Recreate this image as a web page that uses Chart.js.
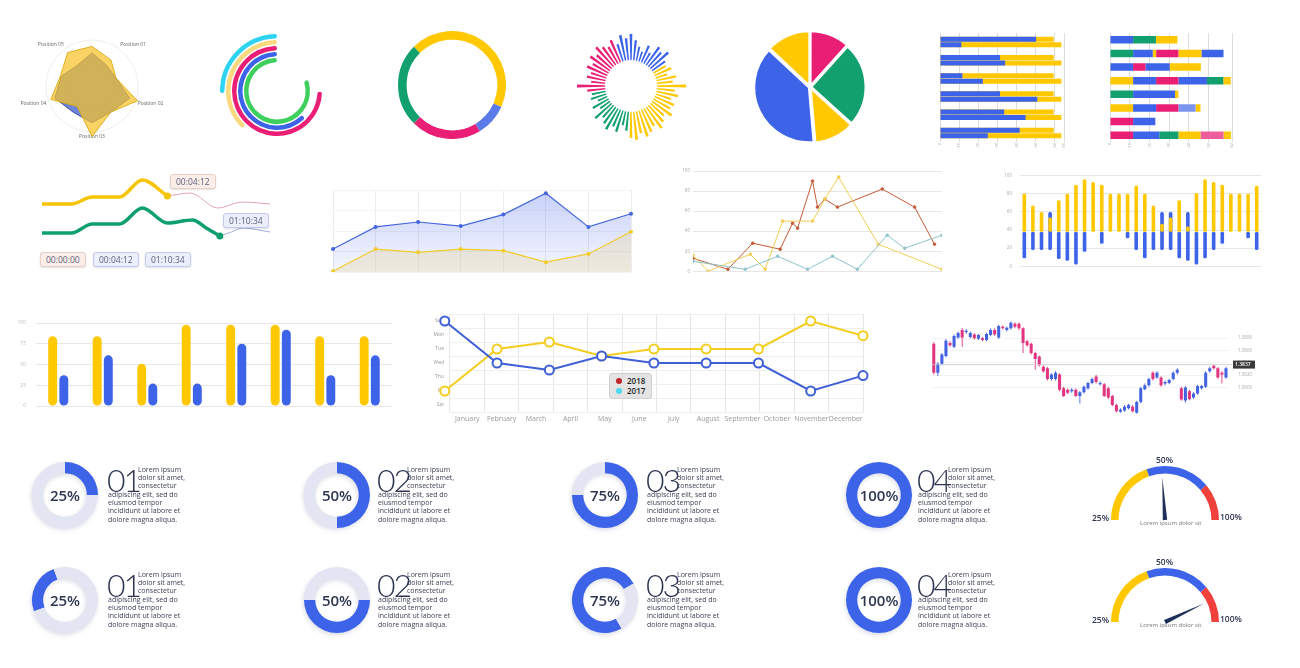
<!DOCTYPE html>
<html>
<head>
<meta charset="utf-8">
<script src="https://cdn.jsdelivr.net/npm/chart.js@4.4.0/dist/chart.umd.min.js"></script>
<style>
  body { margin: 0; background: #fff; }
  #board { position: relative; width: 1300px; height: 668px; overflow: hidden; font-family: 'Open Sans', sans-serif; }
  #board canvas { position: absolute; }
  #board canvas.prog { filter: drop-shadow(-1px 2px 2px rgba(60,70,120,0.18)); }
  .tag { position: absolute; font-size: 8.5px; color: #5b6280; border-radius: 3px; padding: 1px 5px; line-height: 11px; box-shadow: 0 1px 2px rgba(0,0,0,0.12); }
  .tag.warm { background: #fbeee9; border: 1px solid #e6cfc6; }
  .tag.cool { background: #eceefb; border: 1px solid #c3c9ec; }
  .num { position: absolute; font-family: Lato, 'Open Sans', sans-serif; font-weight: 300; font-size: 32px; line-height: 32px; color: #2d3552; letter-spacing: -2px; }
  .txt { position: absolute; font-size: 7px; line-height: 8.2px; color: #3a3f55; white-space: nowrap; }
  .pct { position: absolute; width: 60px; text-align: center; font-size: 15px; font-weight: 600; color: #2e3650; transform: translate(-50%, -50%); }
  .glab { position: absolute; font-size: 8.5px; font-weight: 600; color: #2e3650; }
  .gsub { position: absolute; font-size: 6px; color: #777; white-space: nowrap; }
  .legend { position: absolute; background: #e4e4e4; border: 1px solid #cfcfcf; border-radius: 3px; font-size: 8px; font-weight: 600; color: #222; padding: 2px 6px; line-height: 10px; }
  .legend i { display: inline-block; width: 6px; height: 6px; border-radius: 50%; margin-right: 5px; }
</style>
</head>
<body>
<div id="board"></div>
<script>
// kleuren
const BLUE = '#3d63e8', YEL = '#ffc800', PINK = '#e91e74', GREEN = '#12a06e', RED = '#f0403c';

// radar
const radarLabels = ['Position 05', '', 'Position 01', '', 'Position 02', '', 'Position 03', '', 'Position 04', ''];
const radarYellow = [90, 86, 70, 55, 104, 70, 110, 55, 94, 72];
const radarBlue = [55, 72, 55, 55, 86, 70, 80, 70, 85, 70];

// ringen (graden: leeg, gevuld)
const ringGap = [268, 223, 91, 134, 70];
const ringArc = [92, 137, 269, 226, 290];
const ringColors = ['#2fd3f2', '#fbd97f', PINK, BLUE, '#3ecf5c'];

// donut
const donutParts = [159, 35, 76, 90];
const donutColors = [YEL, '#5b7be9', PINK, GREEN];

// zonnestraal
const burstLengths = [52, 46, 40, 36, 44, 38, 48, 45, 50, 42, 40, 44, 38, 46, 42, 55, 44, 48, 42, 47,
  45, 50, 44, 48, 52, 46, 50, 53, 48, 54, 52, 45, 40, 48, 44, 50, 46, 42, 48, 38,
  44, 36, 42, 40, 44, 54, 40, 45, 42, 48, 44, 50, 46, 52, 48, 45, 50, 44, 52, 48];
const burstInner = 26;

// taart
const pieValues = [42, 90, 43, 138, 47];
const pieColors = [PINK, GREEN, YEL, BLUE, YEL];

// horizontale balken links
const hbarGroups = ['1', '2', '3', '4', '5', '6'];
const hbarTopTotal = [59.5, 59.5, 59.5, 59.5, 59.5, 59.5];
const hbarTopBlue = [50.3, 31.4, 11.7, 31.4, 33.6, 41.7];
const hbarBotTotal = [63.5, 63.5, 63.5, 63.5, 63.5, 63.5];
const hbarBotBlue = [11.2, 34.1, 22.4, 50.9, 44.8, 25.0];

// gestapelde balken rechts
const stackRows = ['1', '2', '3', '4', '5', '6', '7', '8'];
const stackSegs = [
  [11.7, 11.7, 11.7, 11.7, 11.7, 11.7, 11.7, 11.7],
  [11.6, 10, 6.3, 11.7, 21.3, 11.7, 11.3, 13.3],
  [10.9, 1.7, 12.3, 11.3, 1.7, 11.3, 0, 9.7],
  [0, 11.3, 15.8, 14.5, 0, 8.7, 0, 11.2],
  [0, 11.7, 0, 8.3, 0, 2.5, 0, 11.7],
  [0, 11.2, 0, 3.8, 0, 0, 0, 3.8]
];
const B = BLUE, G = GREEN, Y = YEL, P = PINK, LB = '#7b94ee', LP = '#ef5d9d', N = 'rgba(0,0,0,0)';
const stackColors = [
  [B, G, B, Y, G, Y, P, P],
  [G, B, P, B, B, B, B, B],
  [Y, Y, B, P, Y, P, N, G],
  [N, P, Y, B, N, LB, N, Y],
  [N, Y, N, G, N, Y, N, LP],
  [N, B, N, Y, N, N, N, Y]
];

// vloeiende lijnen
const yelX = [0, 13, 22, 34, 44, 55], yelY = [36, 36, 43, 43, 60, 44];
const pinkX = [55, 65, 77, 88, 100], pinkY = [44, 47, 32, 38, 36];
const grnX = [0, 13, 22, 34, 44, 55, 66, 72, 78], grnY = [7, 7, 16, 16, 32, 17, 20, 12, 4];
const periX = [78, 83, 88, 100], periY = [4, 8, 12, 8];

// vlakgrafiek
const areaLabels = ['', '', '', '', '', '', '', ''];
const areaBlue = [28, 55, 61, 56, 70, 96, 55, 71];
const areaYellow = [1, 28, 24, 28, 26, 12, 22, 49];

// meerdere lijnen
const redX = [0, 14, 24, 35, 40, 42, 48, 50, 53, 58, 76, 89, 97];
const redY = [13, 2, 28, 22, 48, 43, 90, 64, 72, 64, 82, 64, 27];
const goldX = [0, 6, 23, 29, 36, 48, 53, 58.5, 74.4, 100];
const goldY = [16, 0, 17, 2, 50, 50, 72, 94, 27, 2];
const tealX = [0, 21, 34, 46, 56, 66, 78, 85, 100];
const tealY = [10, 2, 15, 2, 15, 2, 36, 23, 36];

// plus/min balken
const pnBase = 38;
const pnYellow = [80, 67, 60, 54, 73, 80, 90, 96, 93, 90, 80, 80, 80, 89, 80, 67, 47, 54, 73, 44, 81, 96, 93, 90, 80, 80, 80, 89];
const pnBlueLow = [9, 18, 18, 18, 8, 6, 2, 16, 38, 25, 38, 38, 31, 18, 9, 18, 18, 18, 9, 6, 2, 9, 18, 25, 38, 38, 31, 18];
const pnBlueHigh = [38, 38, 38, 60, 38, 38, 38, 38, 38, 38, 38, 38, 38, 38, 38, 38, 60, 60, 38, 60, 38, 38, 38, 38, 38, 38, 38, 38];

// gegroepeerde balken
const grpLabels = ['', '', '', '', '', '', '', ''];
const grpYellow = [84, 84, 51, 98, 98, 98, 84, 84];
const grpBlue = [37, 61, 27, 27, 75, 92, 37, 61];

// maanden
const months = ['January', 'February', 'March', 'April', 'May', 'June', 'July', 'August', 'September', 'October', 'November', 'December'];
const days = ['Sun', 'Mon', 'Tue', 'Wed', 'Thu', 'Fri', 'Sat'];
const lineBlue = [0, 3, 3.5, 2.5, 3, 3, 3, 5, 3.9];
const lineYellow = [5, 2, 1.5, 2.5, 2, 2, 2, 0, 1.05];

// candles
const candleOpen = [300, 205, 235, 260, 302, 290, 320, 345, 338, 322, 330, 316, 318, 312, 328, 345, 320, 355, 345, 350, 365, 365, 350, 308, 300, 270, 258, 225, 220, 185, 185, 200, 155, 150, 145, 150, 130, 142, 155, 172, 193, 168, 168, 155, 130, 100, 78, 82, 90, 95, 75, 110, 152, 165, 205, 190, 190, 170, 172, 185, 205, 155, 115, 145, 125, 138, 155, 160, 210, 228, 220, 205, 190];
const candleClose = [205, 235, 265, 310, 295, 325, 335, 320, 342, 335, 318, 328, 312, 332, 345, 330, 358, 350, 352, 368, 355, 350, 302, 295, 270, 250, 230, 210, 185, 200, 205, 150, 130, 140, 150, 130, 142, 160, 172, 185, 175, 172, 130, 125, 100, 80, 85, 95, 100, 80, 110, 155, 165, 185, 185, 205, 165, 175, 182, 205, 215, 118, 157, 120, 138, 162, 162, 205, 220, 220, 190, 200, 220];
const candleHigh = [305, 240, 270, 315, 308, 330, 340, 350, 348, 340, 334, 332, 322, 336, 350, 350, 362, 360, 356, 372, 370, 370, 354, 312, 304, 274, 262, 230, 224, 204, 210, 204, 160, 154, 156, 154, 146, 164, 176, 190, 198, 178, 172, 160, 134, 104, 90, 100, 104, 100, 114, 160, 170, 190, 210, 210, 194, 180, 186, 210, 220, 160, 162, 150, 142, 166, 166, 210, 225, 232, 224, 210, 225];
const candleLow = [200, 195, 230, 255, 290, 285, 316, 290, 332, 318, 314, 312, 308, 308, 324, 326, 316, 346, 340, 346, 350, 345, 270, 290, 265, 215, 226, 205, 180, 180, 180, 145, 126, 136, 140, 126, 105, 138, 150, 168, 170, 164, 126, 120, 96, 76, 75, 78, 86, 76, 72, 106, 148, 160, 180, 186, 160, 164, 168, 180, 200, 114, 108, 116, 120, 134, 150, 156, 205, 216, 186, 170, 186];
const candleTickIdx = [0, 9, 14, 20, 25, 32, 39, 45, 54, 64, 70];
const candleTickText = ['18.03', '00:20:19', 'EURUSD', '80%', '18.03.22', '18.03.222', '1.2776', '1.13788', '20200316.0412', '10.000.00', '0.291'];
const priceTickValues = [318, 278, 238, 198, 158];
const priceTickLabels = ['1.3880', '1.3860', '1.3840', '1.3820', '1.3800'];
const lastPrice = 232, lastPriceLabel = '1.3837';

// voortgang
const progressValues = [25, 50, 75, 100];
const progressRest = [75, 50, 25, 0];
const progressNums = ['01', '02', '03', '04'];
const rowRotation = [[0, 0, 0, 0], [250, 90, 150, 0]];

// meters
const gaugeSegments = [70, 70, 40];
const gaugeColors = [YEL, BLUE, RED];
const gaugeNeedles = [48, 86];

Chart.defaults.animation = false;
Chart.defaults.responsive = false;
Chart.defaults.maintainAspectRatio = false;
Chart.defaults.font.family = "'Open Sans', sans-serif";
Chart.defaults.font.size = 6;
Chart.defaults.color = '#9a9a9a';
Chart.defaults.plugins.legend.display = false;
Chart.defaults.plugins.tooltip.enabled = false;
Chart.defaults.elements.point.radius = 0;

const board = document.getElementById('board');
function canvasAt(x, y, w, h, cls) {
  const c = document.createElement('canvas');
  c.width = w; c.height = h;
  c.style.left = x + 'px'; c.style.top = y + 'px';
  if (cls) c.className = cls;
  board.appendChild(c);
  return c;
}
function put(html, x, y, cls) {
  const d = document.createElement('div');
  d.className = cls;
  d.innerHTML = html;
  d.style.left = x + 'px';
  d.style.top = y + 'px';
  board.appendChild(d);
  return d;
}
const pts = (xs, ys) => xs.map((x, i) => ({ x: x, y: ys[i] }));

// --- plugins ---
const holePlugin = {
  id: 'hole',
  afterDatasetsDraw(chart, args, opts) {
    const r = chart.scales.r, ctx = chart.ctx;
    ctx.save();
    ctx.fillStyle = '#fff';
    ctx.beginPath();
    ctx.arc(r.xCenter, r.yCenter, r.getDistanceFromCenterForValue(opts.value), 0, Math.PI * 2);
    ctx.fill();
    ctx.restore();
  }
};
const priceLinePlugin = {
  id: 'priceLine',
  afterDatasetsDraw(chart, args, opts) {
    const y = chart.scales.y.getPixelForValue(opts.value), a = chart.chartArea, ctx = chart.ctx;
    ctx.save();
    ctx.strokeStyle = '#c8c8c8'; ctx.lineWidth = 0.8;
    ctx.beginPath(); ctx.moveTo(a.left, y); ctx.lineTo(a.right + 4, y); ctx.stroke();
    ctx.fillStyle = '#3a3a3a';
    ctx.fillRect(a.right + 5, y - 4, 22, 8);
    ctx.fillStyle = '#fff'; ctx.font = "600 5px 'Open Sans'"; ctx.textBaseline = 'middle';
    ctx.fillText(opts.label, a.right + 7, y);
    ctx.restore();
  }
};
const needlePlugin = {
  id: 'needle',
  afterDatasetsDraw(chart, args, opts) {
    const arc = chart.getDatasetMeta(0).data[0], ctx = chart.ctx;
    const a = Math.PI + Math.PI * opts.value / 100, L = arc.outerRadius * 0.8;
    const px = Math.cos(a + Math.PI / 2) * 2.2, py = Math.sin(a + Math.PI / 2) * 2.2;
    ctx.save();
    ctx.fillStyle = '#1f2f5a';
    ctx.beginPath();
    ctx.moveTo(arc.x + px, arc.y + py);
    ctx.lineTo(arc.x + Math.cos(a) * L, arc.y + Math.sin(a) * L);
    ctx.lineTo(arc.x - px, arc.y - py);
    ctx.closePath(); ctx.fill();
    ctx.restore();
  }
};

// --- radar ---
new Chart(canvasAt(18, 30, 150, 112), {
  type: 'radar',
  data: {
    labels: radarLabels,
    datasets: [
      { data: radarYellow, backgroundColor: 'rgba(246,196,40,0.72)', borderColor: 'rgba(220,170,20,0.9)', borderWidth: 1 },
      { data: radarBlue, backgroundColor: 'rgba(55,85,200,0.72)', borderColor: '#3b4fa8', borderWidth: 1 }
    ]
  },
  options: {
    layout: { padding: 2 },
    scales: {
      r: {
        min: 0, max: 100, startAngle: -36,
        ticks: { display: false, stepSize: 50 },
        grid: { circular: true, color: '#eeeeee' },
        angleLines: { display: false },
        pointLabels: { font: { size: 5 }, color: '#666', padding: 2 }
      }
    }
  }
});

// --- ringen ---
const ringSets = [];
ringArc.forEach((v, i) => {
  if (i > 0) ringSets.push({ data: [1], backgroundColor: ['rgba(0,0,0,0)'], borderWidth: 0, weight: 1 });
  ringSets.push({ data: [ringGap[i], v], backgroundColor: ['rgba(0,0,0,0)', ringColors[i]], borderWidth: 0, borderRadius: [0, 3], weight: 3 });
});
new Chart(canvasAt(220, 34, 114, 114), {
  type: 'doughnut',
  data: { datasets: ringSets },
  options: { cutout: '50%' }
});

// --- donut ---
new Chart(canvasAt(398, 31, 108, 108), {
  type: 'doughnut',
  data: { datasets: [{ data: donutParts, backgroundColor: donutColors, borderWidth: 0 }] },
  options: { cutout: '84%', rotation: -45 }
});

// --- zonnestraal ---
function burstColor(i) {
  const a = i * 360 / burstLengths.length;
  if (a >= 340 || a < 60) return BLUE;
  if (a < 186) return YEL;
  if (a < 264) return GREEN;
  return PINK;
}
new Chart(canvasAt(576, 31, 110, 110), {
  type: 'polarArea',
  data: {
    datasets: [{
      data: burstLengths.flatMap(v => [v, 0]),
      backgroundColor: burstLengths.flatMap((v, i) => [burstColor(i), 'rgba(0,0,0,0)']),
      borderWidth: 0
    }]
  },
  options: {
    scales: { r: { display: false, min: 0, max: 55, startAngle: -1.5 } },
    plugins: { hole: { value: burstInner } }
  },
  plugins: [holePlugin]
});

// --- taart ---
new Chart(canvasAt(752, 29, 116, 116), {
  type: 'pie',
  data: { datasets: [{ data: pieValues, backgroundColor: pieColors, borderColor: '#fff', borderWidth: 2.5, offset: 4 }] }
});

// --- horizontale balken links ---
new Chart(canvasAt(926, 30, 144, 122), {
  type: 'bar',
  data: {
    labels: hbarGroups,
    datasets: [
      { data: hbarTopBlue, backgroundColor: BLUE, stack: 'a' },
      { data: hbarBotBlue, backgroundColor: BLUE, stack: 'b' },
      { data: hbarTopTotal, backgroundColor: YEL, stack: 'a' },
      { data: hbarBotTotal, backgroundColor: YEL, stack: 'b' }
    ]
  },
  options: {
    indexAxis: 'y',
    layout: { padding: { left: 14, right: 4, top: 3, bottom: 2 } },
    datasets: { bar: { categoryPercentage: 0.6, barPercentage: 0.92 } },
    scales: {
      y: { stacked: true, display: false },
      x: {
        stacked: false, min: 0, max: 65,
        ticks: { stepSize: 10, font: { size: 4 }, color: '#aaa', maxRotation: 90, minRotation: 90, padding: 1 },
        grid: { color: '#dcdcdc', drawTicks: false },
        border: { display: false },
        afterFit: s => { s.height = 8; }
      }
    }
  }
});

// --- gestapelde balken rechts ---
new Chart(canvasAt(1100, 30, 138, 122), {
  type: 'bar',
  data: {
    labels: stackRows,
    datasets: stackSegs.map((seg, i) => ({ data: seg, backgroundColor: stackColors[i] }))
  },
  options: {
    indexAxis: 'y',
    layout: { padding: { left: 10, right: 4, top: 3, bottom: 2 } },
    datasets: { bar: { categoryPercentage: 0.55, barPercentage: 1 } },
    scales: {
      y: { stacked: true, display: false },
      x: {
        stacked: true, min: 0, max: 62,
        ticks: { stepSize: 10, font: { size: 4 }, color: '#aaa', maxRotation: 90, minRotation: 90, padding: 1 },
        grid: { color: '#dcdcdc', drawTicks: false },
        border: { display: false },
        afterFit: s => { s.height = 8; }
      }
    }
  }
});

// --- vloeiende lijnen ---
new Chart(canvasAt(38, 166, 236, 78), {
  type: 'line',
  data: {
    datasets: [
      { data: pts(yelX, yelY), borderColor: '#f6c500', borderWidth: 3.5, cubicInterpolationMode: 'monotone', pointRadius: [0, 0, 0, 0, 0, 3.5], pointBackgroundColor: '#f6c500', pointBorderWidth: 0 },
      { data: pts(pinkX, pinkY), borderColor: '#e3a3b8', borderWidth: 1, cubicInterpolationMode: 'monotone' },
      { data: pts(grnX, grnY), borderColor: '#0e9f6e', borderWidth: 3.5, cubicInterpolationMode: 'monotone', pointRadius: [0, 0, 0, 0, 0, 0, 0, 0, 3.5], pointBackgroundColor: '#0e9f6e', pointBorderWidth: 0 },
      { data: pts(periX, periY), borderColor: '#a3acde', borderWidth: 1, cubicInterpolationMode: 'monotone' }
    ]
  },
  options: {
    layout: { padding: 4 },
    scales: { x: { type: 'linear', min: 0, max: 100, display: false }, y: { min: 0, max: 70, display: false } }
  }
});
put('00:04:12', 170, 174, 'tag warm');
put('01:10:34', 223, 213, 'tag cool');
put('00:00:00', 40, 252, 'tag warm');
put('00:04:12', 93, 252, 'tag cool');
put('01:10:34', 145, 252, 'tag cool');

// --- vlakgrafiek ---
function blueGrad(c) {
  const { ctx, chartArea } = c.chart;
  if (!chartArea) return 'rgba(80,110,235,0.2)';
  const g = ctx.createLinearGradient(0, chartArea.top, 0, chartArea.bottom);
  g.addColorStop(0, 'rgba(80,110,235,0.32)');
  g.addColorStop(1, 'rgba(80,110,235,0.06)');
  return g;
}
new Chart(canvasAt(328, 185, 308, 92), {
  type: 'line',
  data: {
    labels: areaLabels,
    datasets: [
      { data: areaYellow, borderColor: '#f2cc2a', borderWidth: 1.2, fill: 'origin', backgroundColor: 'rgba(225,210,160,0.35)', pointRadius: 2, pointBackgroundColor: '#f2cc2a', pointBorderWidth: 0 },
      { data: areaBlue, borderColor: '#4466dd', borderWidth: 1.2, fill: 'origin', backgroundColor: blueGrad, pointRadius: 2, pointBackgroundColor: '#4466dd', pointBorderWidth: 0 }
    ]
  },
  options: {
    layout: { padding: 5 },
    scales: {
      x: { ticks: { display: false }, grid: { color: '#ececec', drawTicks: false }, border: { display: false }, afterFit: s => { s.height = 0; } },
      y: { min: 0, max: 100, ticks: { display: false, stepSize: 25 }, grid: { color: '#f3f3f3', drawTicks: false }, border: { display: false }, afterFit: s => { s.width = 0; } }
    }
  }
});

// --- meerdere lijnen ---
new Chart(canvasAt(675, 165, 272, 112), {
  type: 'line',
  data: {
    datasets: [
      { data: pts(tealX, tealY), borderColor: '#8fc3cc', borderWidth: 1, pointRadius: 1.3, pointBackgroundColor: '#8fc3cc' },
      { data: pts(goldX, goldY), borderColor: '#f2cf57', borderWidth: 1, pointRadius: 1.3, pointBackgroundColor: '#f2cf57' },
      { data: pts(redX, redY), borderColor: '#c55a36', borderWidth: 1, pointRadius: 1.3, pointBackgroundColor: '#c55a36' }
    ]
  },
  options: {
    layout: { padding: { left: 0, right: 4, top: 6, bottom: 4 } },
    scales: {
      x: { type: 'linear', min: 0, max: 100, display: false },
      y: {
        min: 0, max: 100,
        ticks: { stepSize: 20, font: { size: 4.5 }, color: '#aaa', padding: 3 },
        grid: { color: '#e6e6e6', drawTicks: false },
        border: { display: false },
        afterFit: s => { s.width = 18; }
      }
    }
  }
});

// --- plus/min balken ---
new Chart(canvasAt(995, 165, 272, 112), {
  type: 'bar',
  data: {
    labels: pnYellow.map(() => ''),
    datasets: [
      { data: pnYellow.map(v => [pnBase, v]), backgroundColor: YEL, stack: 's' },
      { data: pnBlueLow.map((v, i) => [v, pnBlueHigh[i]]), backgroundColor: BLUE, stack: 's' }
    ]
  },
  options: {
    layout: { padding: { left: 0, right: 6, top: 6, bottom: 4 } },
    datasets: { bar: { categoryPercentage: 1, barPercentage: 0.42, borderRadius: 1.5, borderSkipped: false } },
    scales: {
      x: { stacked: true, display: false },
      y: {
        stacked: false, min: 0, max: 100,
        ticks: { stepSize: 20, font: { size: 4.5 }, color: '#aaa', padding: 8 },
        grid: { color: '#e6e6e6', drawTicks: false },
        border: { display: false },
        afterFit: s => { s.width = 25; }
      }
    }
  }
});

// --- gegroepeerde balken ---
new Chart(canvasAt(5, 310, 392, 109), {
  type: 'bar',
  data: {
    labels: grpLabels,
    datasets: [
      { data: grpYellow, backgroundColor: YEL },
      { data: grpBlue, backgroundColor: BLUE }
    ]
  },
  options: {
    layout: { padding: { left: 0, right: 5, top: 8, bottom: 4 } },
    datasets: { bar: { categoryPercentage: 0.5, barPercentage: 0.8, borderRadius: 6, borderSkipped: false } },
    scales: {
      x: { display: false },
      y: {
        min: 0, max: 100,
        ticks: { stepSize: 25, font: { size: 5 }, color: '#bbb', padding: 10 },
        grid: { color: '#e8e8e8', drawTicks: false },
        border: { display: false },
        afterFit: s => { s.width = 31; }
      }
    }
  }
});

// --- maanden ---
new Chart(canvasAt(425, 305, 445, 120), {
  type: 'line',
  data: {
    labels: months,
    datasets: [
      { data: lineBlue.map((v, i) => ({ x: i, y: v })), xAxisID: 'xp', yAxisID: 'yp', borderColor: '#3f5fd6', borderWidth: 2, pointRadius: 4.5, pointBackgroundColor: '#fff', pointBorderColor: '#3f5fd6', pointBorderWidth: 2, clip: false },
      { data: lineYellow.map((v, i) => ({ x: i, y: v })), xAxisID: 'xp', yAxisID: 'yp', borderColor: '#f4cd1e', borderWidth: 2, pointRadius: 4.5, pointBackgroundColor: '#fff', pointBorderColor: '#f4cd1e', pointBorderWidth: 2, clip: false }
    ]
  },
  options: {
    layout: { padding: { left: 0, right: 7, top: 7, bottom: 2 } },
    scales: {
      x: { type: 'category', offset: true, grid: { offset: true, color: '#e6e6e6', drawTicks: false }, border: { display: false }, ticks: { font: { size: 7 }, color: '#999', maxRotation: 0, autoSkip: false, padding: 3 }, afterFit: s => { s.height = 11; } },
      y: { type: 'category', labels: days, offset: true, grid: { offset: true, color: '#eeeeee', drawTicks: false }, border: { display: false }, ticks: { font: { size: 5 }, color: '#999', padding: 6 }, afterFit: s => { s.width = 25; } },
      xp: { type: 'linear', display: false, min: 0.1, max: 8 },
      yp: { type: 'linear', display: false, min: -0.5, max: 6.5, reverse: true }
    }
  }
});
put('<div><i style="background:#c0242c"></i>2018</div><div><i style="background:#4fd8f0"></i>2017</div>', 609, 373, 'legend');

// --- candles ---
const candleLabels = candleOpen.map(() => '');
candleTickIdx.forEach((k, i) => { candleLabels[k] = candleTickText[i]; });
const candleUp = candleOpen.map((o, i) => candleClose[i] >= o);
new Chart(canvasAt(925, 308, 335, 119), {
  type: 'bar',
  data: {
    labels: candleLabels,
    datasets: [
      { data: candleOpen.map((o, i) => [Math.min(o, candleClose[i]), Math.max(o, candleClose[i])]), backgroundColor: candleUp.map(u => u ? '#4262e0' : '#e23580'), barPercentage: 0.75, stack: 's' },
      { data: candleLow.map((l, i) => [l, candleHigh[i]]), backgroundColor: candleUp.map(u => u ? '#4262e0' : '#e23580'), barPercentage: 0.22, stack: 's' }
    ]
  },
  options: {
    layout: { padding: { left: 5, right: 4, top: 5, bottom: 2 } },
    datasets: { bar: { categoryPercentage: 1 } },
    scales: {
      x: { stacked: true, grid: { display: false }, border: { display: false }, ticks: { autoSkip: false, maxRotation: 0, font: { size: 4.5 }, color: '#aaa', padding: 3 }, afterFit: s => { s.height = 10; } },
      y: {
        stacked: false, position: 'right', min: 70, max: 375,
        afterBuildTicks: s => { s.ticks = priceTickValues.map(v => ({ value: v })); },
        ticks: { font: { size: 4.5 }, color: '#aaa', padding: 10, callback: (v, i) => priceTickLabels[i] },
        grid: { color: '#f2f2f2', drawTicks: false },
        border: { display: false },
        afterFit: s => { s.width = 28; }
      }
    },
    plugins: { priceLine: { value: lastPrice, label: lastPriceLabel } }
  },
  plugins: [priceLinePlugin]
});

// --- voortgangsringen ---
const ringX = [65, 337, 605, 879];
const rowY = [495, 600];
const numX = [107, 377, 646, 917];
const txtX = [138, 407, 677, 948];
rowY.forEach((cy, r) => {
  progressValues.forEach((v, i) => {
    new Chart(canvasAt(ringX[i] - 36, cy - 36, 72, 72, 'prog'), {
      type: 'doughnut',
      data: { datasets: [{ data: [v, progressRest[i]], backgroundColor: [BLUE, '#e3e5f2'], borderWidth: 0 }] },
      options: { cutout: '66%', rotation: rowRotation[r][i], layout: { padding: 3 } }
    });
    put(v + '%', ringX[i], cy, 'pct');
    put(progressNums[i], numX[i], cy - 31, 'num');
    put('Lorem ipsum<br>dolor sit amet,<br>consectetur', txtX[i], cy - 29, 'txt');
    put('adipiscing elit, sed do<br>eiusmod tempor<br>incididunt ut labore et<br>dolore magna aliqua.', numX[i] + 1, cy - 4, 'txt');
  });
});

// --- meters ---
[520, 622].forEach((cy, r) => {
  new Chart(canvasAt(1111, cy - 56, 108, 58), {
    type: 'doughnut',
    data: { datasets: [{ data: gaugeSegments, backgroundColor: gaugeColors, borderWidth: 0 }] },
    options: { rotation: -90, circumference: 180, cutout: '86%', plugins: { needle: { value: gaugeNeedles[r] } } },
    plugins: [needlePlugin]
  });
  put('50%', 1156, cy - 66, 'glab');
  put('25%', 1092, cy - 8, 'glab');
  put('100%', 1220, cy - 9, 'glab');
  put('Lorem ipsum dolor sit', 1140, cy - 1, 'gsub');
});
</script>
</body>
</html>
